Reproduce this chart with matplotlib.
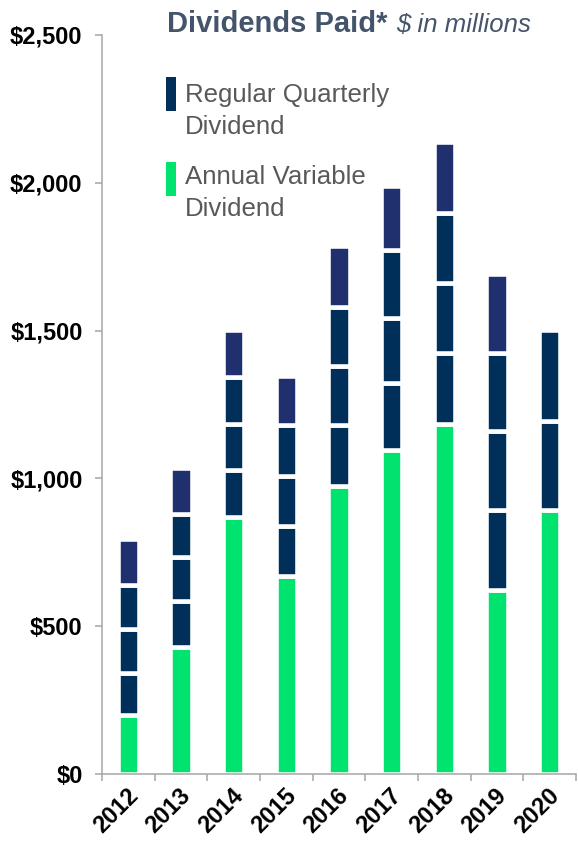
import matplotlib
matplotlib.use("Agg")
import matplotlib.pyplot as plt
import matplotlib.transforms as mtransforms
from matplotlib.patches import Rectangle
import numpy as np

plt.rcParams['font.family'] = ['Liberation Sans', 'DejaVu Sans']

# $ in millions
years = ['2012', '2013', '2014', '2015', '2016', '2017', '2018', '2019', '2020']
variable = [198, 429, 870, 671, 974, 1097, 1184, 624, 892]
q1 = [143, 155, 160, 169, 206, 225, 241, 268, 302]
q2 = [150, 149, 154, 169, 199, 222, 237, 267, 308]
q3 = [148, 148, 159, 171, 201, 227, 236, 266, 0]
q4 = [155, 153, 159, 167, 205, 219, 241, 268, 0]

navy = '#00305A'
navy_top = '#20306E'
green = '#00E36F'
grey = '#A6A6A6'

W, H = 578, 844
fig = plt.figure(figsize=(W / 100, H / 100), dpi=100)
ax = fig.add_axes([102 / W, 1 - 774 / H, 474 / W, 739 / H])

x = np.arange(len(years))
bw = 0.41
lw = 3.3

bottom = np.zeros(len(years))
ax.bar(x, variable, bw, color=green, edgecolor='white', linewidth=lw)
bottom += variable
for seg, col in [(q1, navy), (q2, navy), (q3, navy), (q4, navy_top)]:
    seg = np.array(seg, dtype=float)
    m = seg > 0
    ax.bar(x[m], seg[m], bw, bottom=bottom[m], color=col,
           edgecolor='white', linewidth=lw)
    bottom += seg

ax.set_xlim(-0.5, len(years) - 0.5)
ax.set_ylim(0, 2500)

# y axis
ax.set_yticks(np.arange(0, 2501, 500))
ax.set_yticklabels(['${:,}'.format(v) for v in range(0, 2501, 500)],
                   fontsize=17, fontweight='bold')
ax.tick_params(axis='y', length=5, width=1.1, color=grey, pad=9)

# x axis: labels under bars, tick marks between bars
ax.set_xticks(x)
ax.set_xticklabels(years, fontsize=17, fontweight='bold', rotation=45,
                   ha='right', va='center', rotation_mode='anchor')
ax.tick_params(axis='x', which='major', length=0, pad=13)
ax.set_xticks(np.arange(-0.5, len(years)), minor=True)
ax.tick_params(axis='x', which='minor', length=5, width=1.1, color=grey)
offset = mtransforms.ScaledTranslation(6 / 100, 0, fig.dpi_scale_trans)
for lab in ax.get_xticklabels():
    lab.set_transform(lab.get_transform() + offset)

for s in ['top', 'right']:
    ax.spines[s].set_visible(False)
for s in ['left', 'bottom']:
    ax.spines[s].set_color(grey)
    ax.spines[s].set_linewidth(1.1)

# title
title_col = '#44546A'
fig.text(167 / W, 1 - 32 / H, 'Dividends Paid*', fontsize=21,
         fontweight='bold', color=title_col, va='baseline')
fig.text(396 / W, 1 - 32 / H, '$ in millions', fontsize=18.5,
         fontstyle='italic', color=title_col, va='baseline')

# legend
txt_col = '#595959'
fig.add_artist(Rectangle((166 / W, 1 - 111 / H), 10 / W, 34 / H,
                         transform=fig.transFigure, color=navy, lw=0))
fig.add_artist(Rectangle((166 / W, 1 - 196 / H), 10 / W, 34 / H,
                         transform=fig.transFigure, color=green, lw=0))
for txt, yb in [('Regular Quarterly', 102), ('Dividend', 134),
                ('Annual Variable', 184), ('Dividend', 216)]:
    fig.text(185 / W, 1 - yb / H, txt, fontsize=18.6, color=txt_col,
             va='baseline')

fig.savefig('out.png', dpi=100)
